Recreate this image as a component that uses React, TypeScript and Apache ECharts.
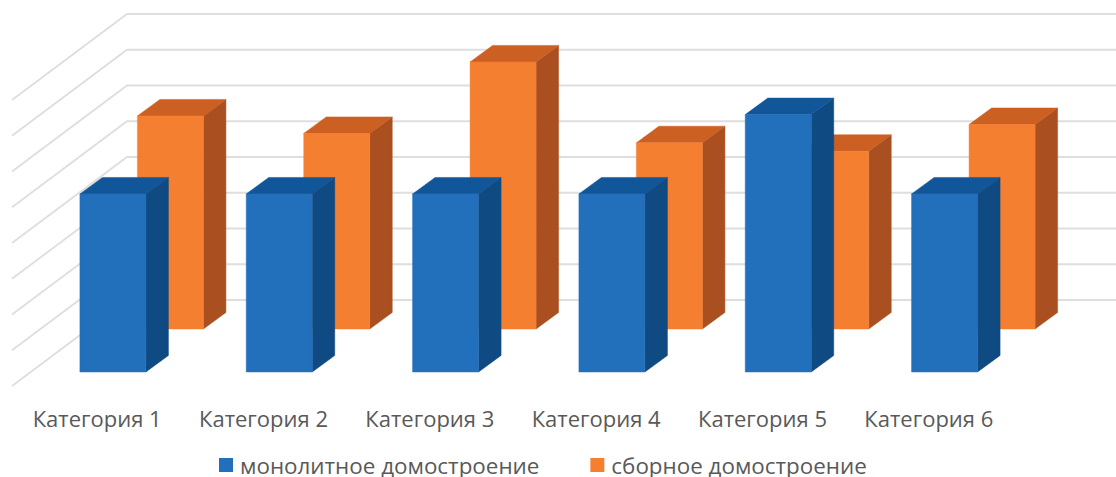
import React, { useEffect, useRef } from "react";
import * as echarts from "echarts";

const categories = ["Категория 1", "Категория 2", "Категория 3", "Категория 4", "Категория 5", "Категория 6"];
const monolithValues = [4.98, 4.98, 4.98, 4.98, 7.2, 4.98];
const prefabValues = [5.96, 5.47, 7.47, 5.21, 4.97, 5.72];
const gridTicks = [0, 1, 2, 3, 4, 5, 6, 7, 8];
const monolithName = "монолитное домостроение";
const prefabName = "сборное домостроение";

const FONT = "'Open Sans', sans-serif";
const FLOOR_DX = 115;
const FLOOR_DY = 86;
const BAR_DX = 22.5;
const BAR_DY = 16.5;
const BAR_WIDTH = 66;

function barRenderer(depth: number, front: string, top: string, side: string) {
  return (_params: any, api: any) => {
    const i = api.value(0);
    const v = api.value(1);
    const base = api.coord([i, 0]);
    const x0 = base[0] + depth * FLOOR_DX - BAR_WIDTH / 2;
    const x1 = x0 + BAR_WIDTH;
    const yb = base[1] - depth * FLOOR_DY;
    const yt = yb - api.size([0, v])[1];
    const face = (points: number[][], fill: string) => ({
      type: "polygon",
      shape: { points },
      style: { fill, stroke: fill, lineWidth: 0.5 },
    });
    return {
      type: "group",
      children: [
        face([[x1, yb], [x1 + BAR_DX, yb - BAR_DY], [x1 + BAR_DX, yt - BAR_DY], [x1, yt]], side),
        face([[x0, yt], [x0 + BAR_DX, yt - BAR_DY], [x1 + BAR_DX, yt - BAR_DY], [x1, yt]], top),
        face([[x0, yb], [x1, yb], [x1, yt], [x0, yt]], front),
      ],
    };
  };
}

function gridRenderer(params: any, api: any) {
  const y = api.coord([0, api.value(1)])[1];
  const left = params.coordSys.x + 1;
  return {
    type: "polyline",
    shape: {
      points: [
        [left, y],
        [left + FLOOR_DX, y - FLOOR_DY],
        [1116, y - FLOOR_DY],
      ],
    },
    style: { fill: "none", stroke: "#DEDEDE", lineWidth: 1.8 },
  };
}

export default function App() {
  const ref = useRef<HTMLDivElement>(null);
  useEffect(() => {
    document.body.style.margin = "0";
    const chart = echarts.init(ref.current!, null, { renderer: "svg" });
    chart.setOption({
      animation: false,
      backgroundColor: "#ffffff",
      grid: { left: 11, width: 998, top: 100, height: 286 },
      legend: {
        data: [monolithName, prefabName],
        left: 219,
        top: 454,
        padding: 0,
        icon: "rect",
        itemWidth: 14,
        itemHeight: 14,
        itemGap: 51,
        textStyle: { fontFamily: FONT, fontSize: 22.4, color: "#595959", padding: [0, 0, 0, 2] },
      },
      xAxis: {
        type: "category",
        data: categories,
        axisLine: { show: false },
        axisTick: { show: false },
        axisLabel: {
          interval: 0,
          hideOverlap: false,
          fontFamily: FONT,
          fontSize: 22,
          color: "#595959",
          margin: 21,
          padding: [0, 0, 0, 6],
        },
      },
      yAxis: { type: "value", min: 0, max: 8, interval: 1, show: false },
      series: [
        {
          type: "custom",
          name: "сетка",
          z: 1,
          renderItem: gridRenderer,
          encode: { x: 0, y: 1 },
          data: gridTicks.map((t) => [0, t]),
        },
        {
          type: "custom",
          name: prefabName,
          z: 2,
          itemStyle: { color: "#F57F31" },
          renderItem: barRenderer(0.663, "#F57F31", "#CC5F22", "#AA4F20"),
          encode: { x: 0, y: 1 },
          data: prefabValues.map((v, i) => [i, v]),
        },
        {
          type: "custom",
          name: monolithName,
          z: 3,
          itemStyle: { color: "#2270BB" },
          renderItem: barRenderer(0.163, "#2270BB", "#12569A", "#0F4A82"),
          encode: { x: 0, y: 1 },
          data: monolithValues.map((v, i) => [i, v]),
        },
      ],
    });
    return () => chart.dispose();
  }, []);
  return <div ref={ref} style={{ width: 1116, height: 477 }} />;
}
